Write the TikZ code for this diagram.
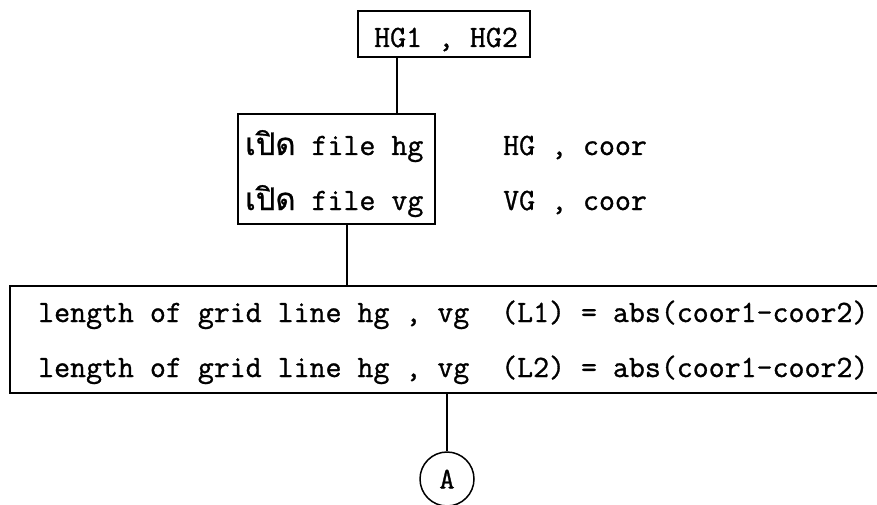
\documentclass[tikz,border=0pt]{standalone}
\usepackage{fontspec}
\newfontfamily\thaifont[Script=Thai,FakeBold=0.8]{Loma}
\newfontfamily\typefont[FakeBold=1]{Latin Modern Mono}
\begin{document}
\begin{tikzpicture}[x=1pt,y=-1pt,
  box/.style={draw,line width=1.5pt,inner sep=0pt},
  txt/.style={anchor=base west,inner sep=0pt,font=\fontsize{31}{36}\typefont},
  conn/.style={line width=1.5pt}]
\clip (0,0) rectangle (877,505);
% boxes
\node[box,minimum width=172pt,minimum height=46pt] (top) at (444,34) {};
\node[box,minimum width=197pt,minimum height=110pt] (b2) at (336.5,169) {};
\node[box,minimum width=880pt,minimum height=107pt] (big) at (450,339.5) {};
\node[draw,circle,line width=1.5pt,minimum size=54pt,inner sep=0pt,font=\fontsize{30}{30}\typefont] (A) at (447,479) {A};
% texts
\node[txt,anchor=base] (t0) at (446,47) {HG1 , HG2};
\node[txt] (t1) at (245,155) {{\thaifont เปิด} file hg};
\node[txt] (t2) at (245,210) {{\thaifont เปิด} file vg};
\node[txt] (t3) at (503,155) {HG , coor};
\node[txt] (t4) at (503,210) {VG , coor};
\node[txt] (t5) at (38,322) {length of grid line hg , vg~ (L1) = abs(coor1-coor2)};
\node[txt] (t6) at (38,377) {length of grid line hg , vg~ (L2) = abs(coor1-coor2)};
% connectors
\draw[conn] ([xshift=-47pt]top.south) -- ([xshift=-47pt]top.south |- b2.north);
\draw[conn] ([xshift=10.5pt]b2.south) -- ([xshift=10.5pt]b2.south |- big.north);
\draw[conn] (big.south -| A.north) -- (A.north);
\end{tikzpicture}
\end{document}
